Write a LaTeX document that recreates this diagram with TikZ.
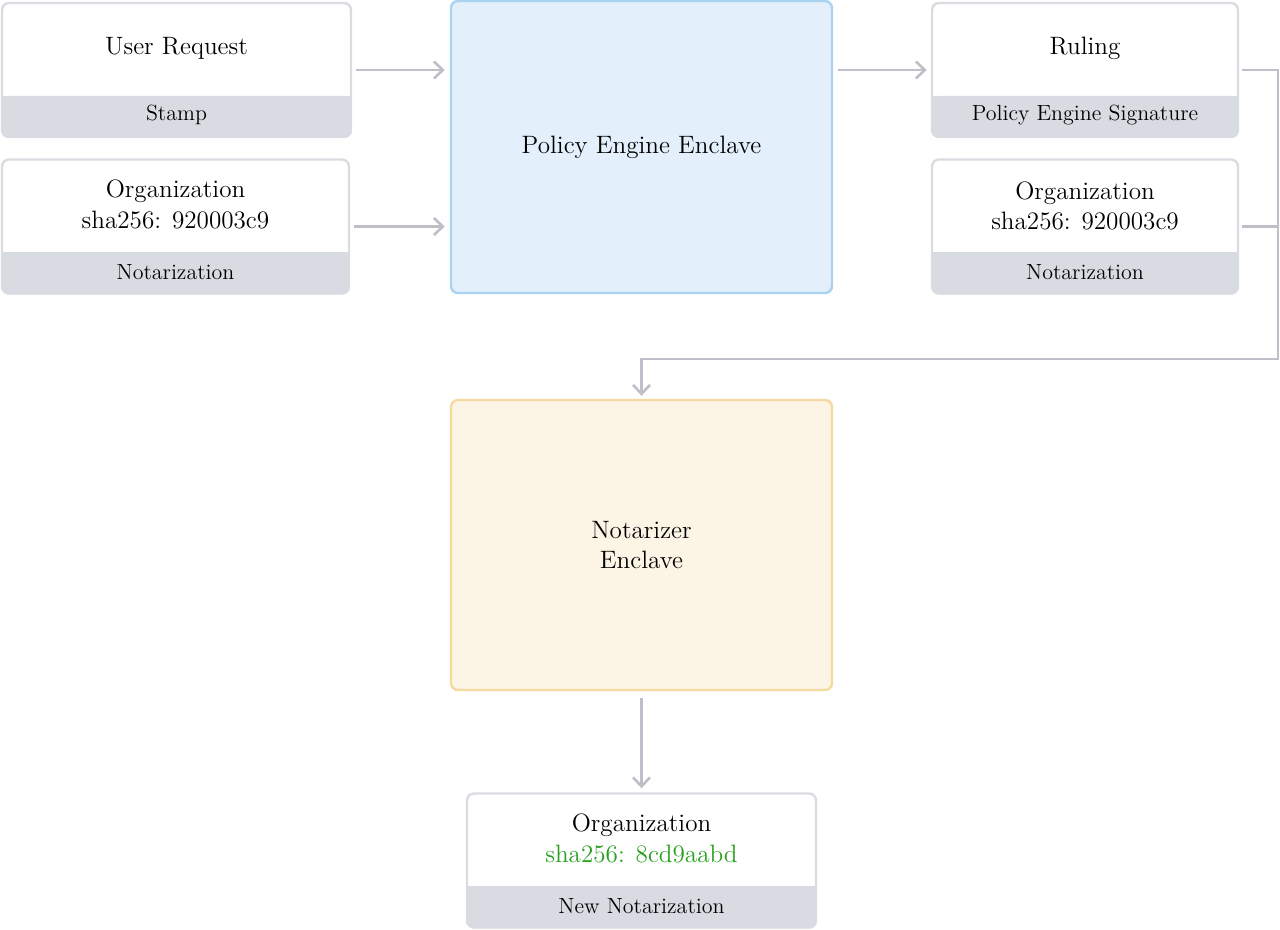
\documentclass[tikz,border=0pt]{standalone}
\usepackage{xcolor}
\usepackage{tikz}
\usetikzlibrary{shapes,arrows.meta,positioning}

\definecolor{cardline}{RGB}{218,220,225}
\definecolor{footbg}{RGB}{217,219,226}
\definecolor{flow}{RGB}{190,191,200}
\definecolor{peebg}{RGB}{227,240,251}
\definecolor{peeline}{RGB}{170,210,242}
\definecolor{ntebg}{RGB}{252,244,228}
\definecolor{nteline}{RGB}{245,218,160}
\definecolor{hashgreen}{RGB}{40,160,30}

\begin{document}
\begin{tikzpicture}[
    card/.style={rectangle, draw=cardline, line width=1.4pt, fill=white, rounded corners=0.14cm, minimum height=2.68cm},
    foot/.style={rectangle, fill=footbg, rounded corners=0.14cm, minimum height=0.84cm, font=\fontsize{12.5}{14}\selectfont},
    title/.style={align=center, font=\fontsize{14.3}{17.5}\selectfont},
    enclave/.style={rectangle, line width=1.4pt, rounded corners=0.14cm, minimum width=7.62cm, align=center, font=\fontsize{14.3}{17.5}\selectfont},
    arrow/.style={-{Straight Barb[length=1.8mm,width=3.4mm]}, line width=1.5pt, draw=flow},
    link/.style={line width=1.5pt, draw=flow}
]
    \useasboundingbox (0,0) rectangle (25.6,-18.58);

    % Inputs
    \node[card, minimum width=6.98cm] (req) at (3.53,-1.40) {};
    \node[foot, minimum width=6.98cm, anchor=south] (reqf) at (req.south) {};
    \fill[footbg] (reqf.north west) rectangle ([yshift=-0.15cm]reqf.north east);
    \node[foot, fill=none] (reqs) at ([yshift=0.03cm]reqf.center) {Stamp};
    \node[title] (reqt) at ([yshift=0.94cm]reqf.north) {User Request};

    \node[card, minimum width=6.94cm] (orga) at (3.51,-4.53) {};
    \node[foot, minimum width=6.94cm, anchor=south] (orgaf) at (orga.south) {};
    \fill[footbg] (orgaf.north west) rectangle ([yshift=-0.15cm]orgaf.north east);
    \node[foot, fill=none] (orgas) at ([yshift=0.03cm]orgaf.center) {Notarization};
    \node[title] (orgat) at ([yshift=0.95cm]orgaf.north) {Organization\\ sha256: 920003c9};

    % Enclaves
    \node[enclave, draw=peeline, fill=peebg, minimum height=5.84cm] (pee) at (12.83,-2.94) {Policy Engine Enclave};
    \node[enclave, draw=nteline, fill=ntebg, minimum height=5.80cm] (nte) at (12.83,-10.90) {Notarizer\\ Enclave};

    % Outputs
    \node[card, minimum width=6.12cm] (rul) at (21.70,-1.40) {};
    \node[foot, minimum width=6.12cm, anchor=south] (rulf) at (rul.south) {};
    \fill[footbg] (rulf.north west) rectangle ([yshift=-0.15cm]rulf.north east);
    \node[foot, fill=none] (ruls) at ([yshift=0.03cm]rulf.center) {Policy Engine Signature};
    \node[title] (rult) at ([yshift=0.94cm]rulf.north) {Ruling};

    \node[card, minimum width=6.12cm] (orgb) at (21.70,-4.53) {};
    \node[foot, minimum width=6.12cm, anchor=south] (orgbf) at (orgb.south) {};
    \fill[footbg] (orgbf.north west) rectangle ([yshift=-0.15cm]orgbf.north east);
    \node[foot, fill=none] (orgbs) at ([yshift=0.03cm]orgbf.center) {Notarization};
    \node[title] (orgbt) at ([yshift=0.92cm]orgbf.north) {Organization\\ sha256: 920003c9};

    \node[card, minimum width=6.98cm] (orgc) at (12.83,-17.21) {};
    \node[foot, minimum width=6.98cm, anchor=south] (orgcf) at (orgc.south) {};
    \fill[footbg] (orgcf.north west) rectangle ([yshift=-0.15cm]orgcf.north east);
    \node[foot, fill=none] (orgcs) at ([yshift=0.03cm]orgcf.center) {New Notarization};
    \node[title] (orgct) at ([yshift=0.96cm]orgcf.north) {Organization\\ \textcolor{hashgreen}{sha256: 8cd9aabd}};

    % Flow
    \draw[arrow, shorten <=0.08cm, shorten >=0.1cm] (req.east) -- (req.east -| pee.west);
    \draw[arrow, shorten <=0.08cm, shorten >=0.1cm] (orga.east) -- (orga.east -| pee.west);
    \draw[arrow, shorten <=0.1cm, shorten >=0.08cm] (pee.east |- rul.west) -- (rul.west);

    \coordinate (bend) at (25.56,-7.18);
    \draw[arrow, shorten <=0.06cm, shorten >=0.06cm] (rul.east) -| (bend) -| (nte.north);
    \draw[link, shorten <=0.06cm] (orgb.east) -- (orgb.east -| bend);
    \draw[arrow, shorten <=0.14cm, shorten >=0.08cm] (nte.south) -- (orgc.north);
\end{tikzpicture}
\end{document}
